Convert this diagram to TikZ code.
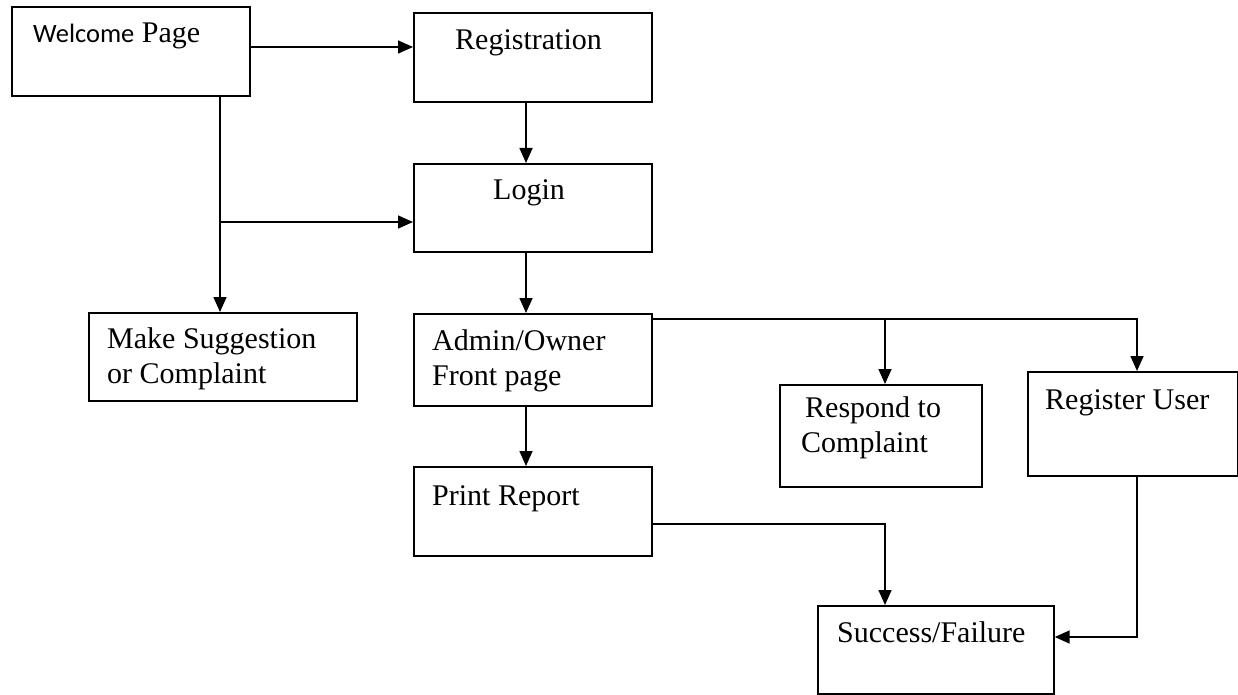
\documentclass[tikz,border=0pt]{standalone}
\usepackage{fontspec}
\setmainfont{Liberation Serif}
\newfontfamily\calibrifont{Carlito}
\usetikzlibrary{arrows.meta}
\tikzset{
  box/.style={draw, line width=1.7pt, rectangle, anchor=north west, inner sep=0pt},
  txt/.style={anchor=base west, inner sep=0pt, align=left, font=\fontsize{30}{35}\selectfont},
  arr/.style={line width=1.6pt, -{Triangle[length=15pt,width=13pt]}},
  ln/.style={line width=1.6pt}
}
\begin{document}
\begin{tikzpicture}[x=1pt,y=-1pt]
\useasboundingbox (0,0) rectangle (1238,695);
% boxes
\node[box, minimum width=238pt, minimum height=89pt] (welcome) at (11,6) {};
\node[box, minimum width=238pt, minimum height=89pt] (reg) at (413,12) {};
\node[box, minimum width=238pt, minimum height=88pt] (login) at (413,163) {};
\node[box, minimum width=268pt, minimum height=88pt] (sugg) at (88,312) {};
\node[box, minimum width=238pt, minimum height=92pt] (admin) at (413,313) {};
\node[box, minimum width=202pt, minimum height=102pt] (respond) at (779,384) {};
\node[box, minimum width=210pt, minimum height=104pt] (register) at (1027,371) {};
\node[box, minimum width=238pt, minimum height=89pt] (print) at (413,466) {};
\node[box, minimum width=236pt, minimum height=88pt] (success) at (817,605) {};
% texts
\node[txt] (welcomeT) at (33,43) {{\calibrifont\fontsize{26.5}{30}\selectfont Welcome} Page};
\node[txt] (regT) at (455,50) {Registration};
\node[txt] (loginT) at (493,200) {Login};
\node[txt, anchor=north west] (suggT) at (107,327) {Make Suggestion\\or Complaint};
\node[txt, anchor=north west] (adminT) at (432,329) {Admin/Owner\\Front page};
\node[txt] (printT) at (432,505) {Print Report};
\node[txt, anchor=north west] (respondT) at (801,396) {\hspace{4pt}Respond to\\Complaint};
\node[txt] (registerT) at (1045,409) {Register User};
\node[txt] (successT) at (837,642) {Success/Failure};
% connectors
\draw[arr] (welcome.east |- 0,47) -- (reg.west |- 0,47);
\draw[arr] (reg.south -| 526,0) -- (login.north -| 526,0);
\draw[arr] (welcome.south -| 220,0) -- (sugg.north -| 220,0);
\coordinate (br) at (220,222);
\draw[arr] (br) -- (login.west |- br);
\draw[arr] (login.south -| 526,0) -- (admin.north -| 526,0);
\draw[arr] (admin.south -| 526,0) -- (print.north -| 526,0);
\draw[arr] (admin.east |- 0,319) -| (register.north -| 1137,0);
\coordinate (rb) at (885,319);
\draw[arr] (rb) -- (respond.north -| rb);
\draw[arr] (print.east |- 0,524) -| (success.north -| 885,0);
\draw[arr] (register.south -| 1137,0) |- (success.east |- 0,637);
\end{tikzpicture}
\end{document}
